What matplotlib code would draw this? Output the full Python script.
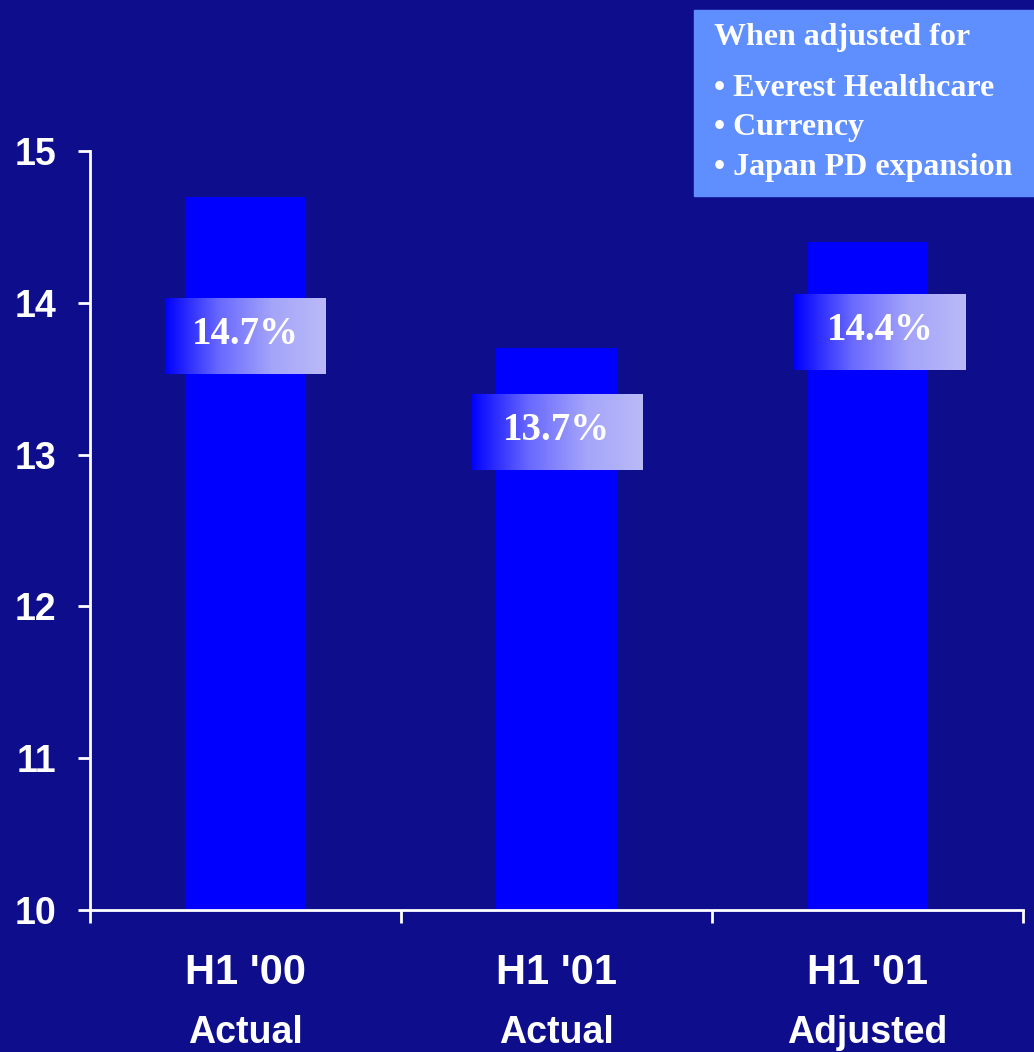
import numpy as np
import matplotlib.pyplot as plt
from matplotlib.transforms import blended_transform_factory

# dados
periodos = ["H1 '00", "H1 '01", "H1 '01"]
tipos = ['Actual', 'Actual', 'Adjusted']
margem = [14.7, 13.7, 14.4]
rotulos = ['14.7%', '13.7%', '14.4%']
ajustes = ['Everest Healthcare', 'Currency', 'Japan PD expansion']

# posicao das caixas de rotulo (centro em x e y, em coordenadas de dados)
caixa_x = [0.0, 0.0, 0.04]
caixa_y = [13.78, 13.15, 13.81]
caixa_w = [0.515, 0.553, 0.553]
caixa_h = 0.5

fundo = '#0e0e8c'
plt.rcParams['font.family'] = ['Liberation Sans', 'DejaVu Sans']

fig = plt.figure(figsize=(10.34, 10.52), dpi=100, facecolor=fundo)
ax = fig.add_axes([90 / 1034, 142 / 1052, 933 / 1034, 759 / 1052])
ax.set_facecolor(fundo)

x = np.arange(len(margem))
ax.bar(x, margem, width=0.39, color='#0000ff', zorder=2)

ax.set_yticks([10, 11, 12, 13, 14, 15])
ax.set_xticks([-0.5, 0.5, 1.5, 2.5])
ax.set_xticklabels([])

for lado in ['top', 'right']:
    ax.spines[lado].set_visible(False)
for lado in ['left', 'bottom']:
    ax.spines[lado].set_color('white')
    ax.spines[lado].set_linewidth(2)
ax.tick_params(axis='both', colors='white', width=2, length=9, direction='out')
ax.tick_params(axis='y', labelsize=27, pad=15)
for t in ax.get_yticklabels():
    t.set_fontweight('bold')

# caixas com degrade e o valor de cada barra
gradiente = np.linspace(0, 1, 256).reshape(1, -1)
cmap = plt.matplotlib.colors.LinearSegmentedColormap.from_list(
    'deg', ['#0000ff', '#6868ff', '#a4a4fa', '#babaf8'])
for i in range(len(margem)):
    cx = x[i] + caixa_x[i]
    ax.imshow(gradiente, cmap=cmap, aspect='auto', zorder=3,
              extent=[cx - caixa_w[i] / 2, cx + caixa_w[i] / 2,
                      caixa_y[i] - caixa_h / 2, caixa_y[i] + caixa_h / 2])
    ax.text(cx, caixa_y[i] + 0.01, rotulos[i], ha='center', va='center', color='white',
            fontsize=28, fontweight='bold', family='Liberation Serif', zorder=4)
ax.set_xlim(-0.5, 2.5)
ax.set_ylim(10, 15)

# rotulos das categorias
trans = blended_transform_factory(ax.transData, fig.transFigure)
for i in range(len(periodos)):
    ax.text(x[i], 1 - 973 / 1052, periodos[i], transform=trans, ha='center', va='center',
            color='white', fontsize=30, fontweight='bold')
    ax.text(x[i], 1 - 1033 / 1052, tipos[i], transform=trans, ha='center', va='center',
            color='white', fontsize=27, fontweight='bold')

# quadro com os ajustes
fig.patches.append(plt.Rectangle((694 / 1034, 1 - 196 / 1052), 340 / 1034, 186 / 1052,
                                 transform=fig.transFigure, color='#5f8fff', zorder=5))
fig.text(714 / 1034, 1 - 38 / 1052, 'When adjusted for', color='white', fontsize=23,
         fontweight='bold', family='Liberation Serif', va='center', zorder=6)
for k, item in enumerate(ajustes):
    fig.text(714 / 1034, 1 - (89 + 39 * k) / 1052, '\u2022 ' + item, color='white',
             fontsize=23, fontweight='bold', family='Liberation Serif', va='center', zorder=6)

fig.savefig('out.png', dpi=100, facecolor=fundo)
